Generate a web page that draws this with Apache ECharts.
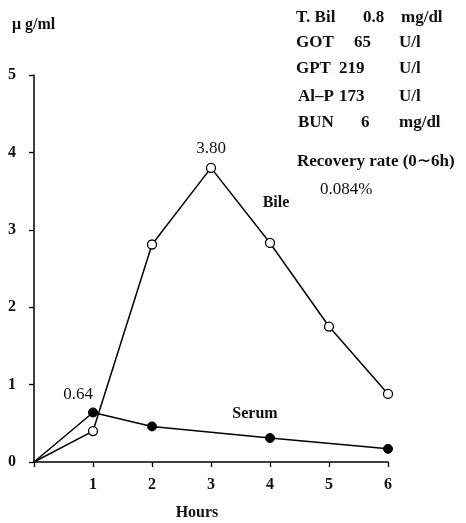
<!DOCTYPE html>
<html>
<head>
<meta charset="utf-8">
<script src="https://cdn.jsdelivr.net/npm/echarts@6/dist/echarts.min.js"></script>
<style>html,body{margin:0;padding:0;background:#fff}#c{width:466px;height:523px}</style>
</head>
<body>
<div id="c"></div>
<script>
const hours = [0, 1, 2, 3, 4, 5, 6];
const bile = [0, 0.40, 2.81, 3.80, 2.83, 1.75, 0.88];
const serumHours = [0, 1, 2, 4, 6];
const serum = [0, 0.64, 0.46, 0.31, 0.17];
const yTicks = [0, 1, 2, 3, 4, 5];
const xTicks = [1, 2, 3, 4, 5, 6];
const infoRows = [
  ['T. Bil', '0.8', 'mg/dl'],
  ['GOT', '65', 'U/l'],
  ['GPT', '219', 'U/l'],
  ['Al\u2013P', '173', 'U/l'],
  ['BUN', '6', 'mg/dl']
];

const FONT = '"Liberation Serif", "DejaVu Serif", serif';
const chart = echarts.init(document.getElementById('c'));

const numLabel = { color: '#111', fontFamily: FONT, fontSize: 17, fontWeight: 'normal' };
const bileData = hours.map((h, i) => {
  const d = { value: [h, bile[i]] };
  if (h === 0) d.symbolSize = 0;
  if (bile[i] === 3.80) d.label = Object.assign({ show: true, formatter: '3.80', position: 'top', distance: 6 }, numLabel);
  return d;
});
const serumData = serumHours.map((h, i) => {
  const d = { value: [h, serum[i]] };
  if (h === 0) d.symbolSize = 0;
  if (serum[i] === 0.64) d.label = Object.assign({ show: true, formatter: '0.64', position: 'top', distance: 4, offset: [-15, 0] }, numLabel);
  return d;
});

const textStyle = { fontFamily: FONT, fontSize: 16, fontWeight: 'bold', fill: '#111' };
const infoStyle = Object.assign({}, textStyle, { fontSize: 17 });
const graphics = [
  { type: 'text', x: 12, y: 25, style: Object.assign({}, textStyle, { text: '\u03bc g/ml', fontSize: 16, verticalAlign: 'middle' }) },
  { type: 'text', x: 276, y: 203, style: Object.assign({}, textStyle, { text: 'Bile', align: 'center', verticalAlign: 'middle' }) },
  { type: 'text', x: 255, y: 414, style: Object.assign({}, textStyle, { text: 'Serum', align: 'center', verticalAlign: 'middle' }) },
  { type: 'text', x: 197, y: 513, style: Object.assign({}, textStyle, { text: 'Hours', align: 'center', verticalAlign: 'middle' }) },
  { type: 'text', x: 297, y: 162, style: Object.assign({}, infoStyle, { text: 'Recovery rate (0\u223c6h)', verticalAlign: 'middle' }) },
  { type: 'text', x: 320, y: 190, style: Object.assign({}, infoStyle, { text: '0.084%', fontWeight: 'normal', verticalAlign: 'middle' }) }
];
const rowY = [18, 43, 69, 97, 123];
const colX = [[296, 363, 401], [296, 354, 399], [296, 339, 399], [298, 339, 399], [298, 361, 399]];
infoRows.forEach((r, i) => {
  r.forEach((t, j) => {
    graphics.push({ type: 'text', x: colX[i][j], y: rowY[i],
      style: Object.assign({}, infoStyle, { text: t, align: 'left', verticalAlign: 'middle' }) });
  });
});

chart.setOption({
  animation: false,
  backgroundColor: '#fff',
  grid: { left: 34, right: 78, top: 75, bottom: 61, containLabel: false },
  xAxis: {
    type: 'value', min: 0, max: 6, interval: 1,
    axisLine: { show: true, lineStyle: { color: '#000', width: 1.5 } },
    axisTick: { show: true, length: 5, inside: false, lineStyle: { color: '#000', width: 1.3 } },
    splitLine: { show: false },
    axisLabel: {
      margin: 15, color: '#111', fontFamily: FONT, fontSize: 16, fontWeight: 'bold',
      formatter: v => (xTicks.indexOf(v) >= 0 ? String(v) : '')
    }
  },
  yAxis: {
    type: 'value', min: 0, max: 5, interval: 1,
    axisLine: { show: true, lineStyle: { color: '#000', width: 1.5 } },
    axisTick: { show: true, length: 5, inside: false, lineStyle: { color: '#000', width: 1.3 } },
    splitLine: { show: false },
    axisLabel: {
      margin: 18, color: '#111', fontFamily: FONT, fontSize: 16, fontWeight: 'bold',
      formatter: v => (yTicks.indexOf(v) >= 0 ? String(v) : '')
    }
  },
  series: [
    {
      name: 'Bile', type: 'line', data: bileData,
      symbol: 'circle', symbolSize: 9,
      lineStyle: { color: '#000', width: 1.5 },
      itemStyle: { color: '#fff', borderColor: '#000', borderWidth: 1.3 },
      z: 3
    },
    {
      name: 'Serum', type: 'line', data: serumData,
      symbol: 'circle', symbolSize: 9,
      lineStyle: { color: '#000', width: 1.5 },
      itemStyle: { color: '#000', borderColor: '#000', borderWidth: 1 },
      z: 4
    }
  ],
  graphic: graphics
});
</script>
</body>
</html>
